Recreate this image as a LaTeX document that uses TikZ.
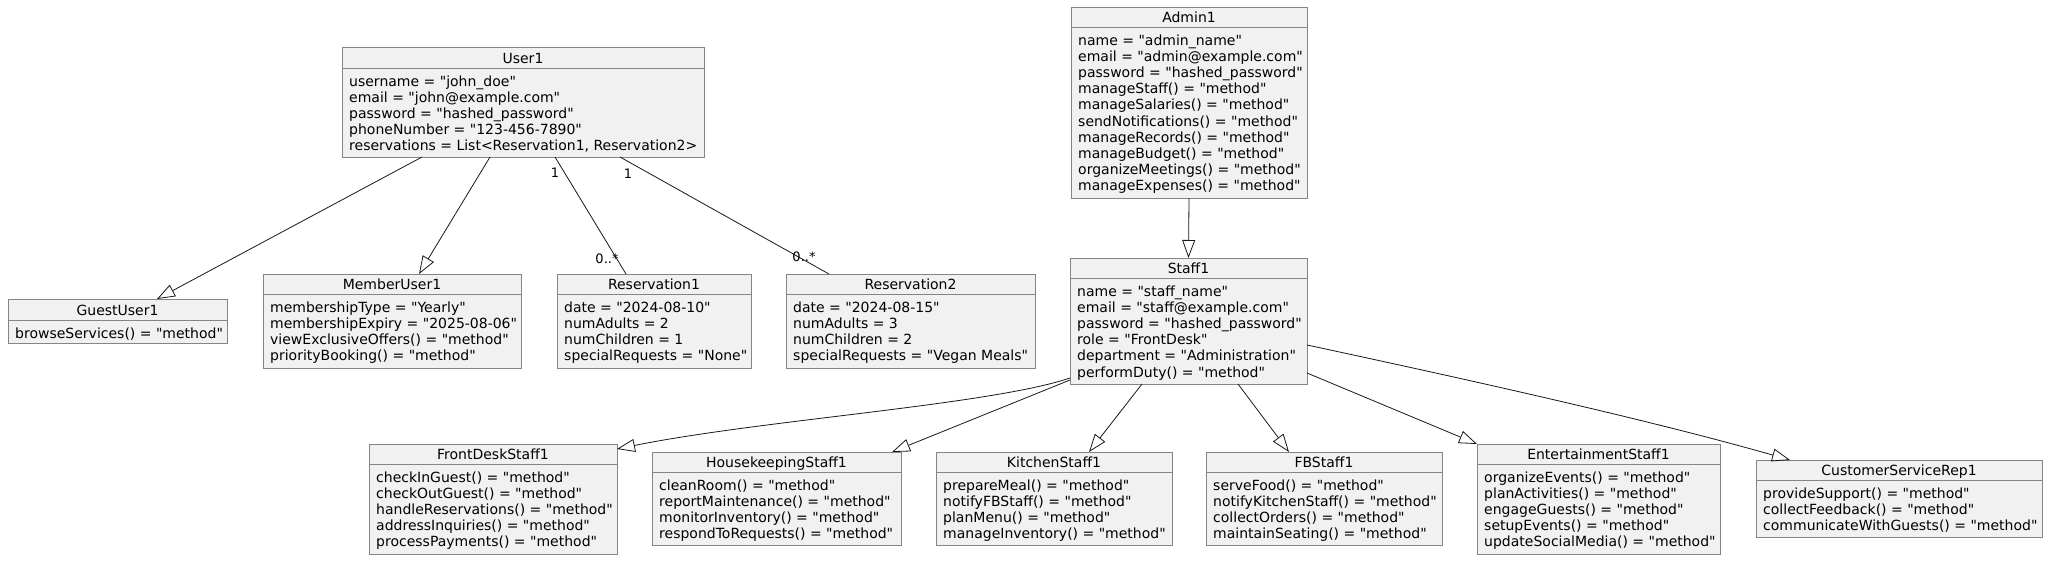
\documentclass[tikz,border=0pt]{standalone}
\usepackage{fontspec}
\setmainfont{DejaVu Sans}[Ligatures=TeXOff]
\usetikzlibrary{arrows.meta,calc}
\definecolor{boxfill}{HTML}{F1F1F1}
\definecolor{boxline}{HTML}{858585}
\definecolor{edgecol}{HTML}{181818}
\tikzset{
  objbox/.style={draw=boxline, fill=boxfill, line width=0.9pt, inner sep=0pt, outer sep=0pt},
  sepline/.style={draw=boxline, line width=0.9pt},
  objtitle/.style={anchor=base, inner sep=0pt, font=\fontsize{14}{16}\selectfont},
  objline/.style={anchor=base west, inner sep=0pt, font=\fontsize{14}{16}\selectfont},
  mult/.style={inner sep=0pt, font=\fontsize{13}{15}\selectfont},
  assoc/.style={draw=edgecol, line width=0.8pt},
  gen/.style={draw=edgecol, line width=0.8pt, -{Triangle[open, length=18pt, width=13pt]}},
}
% #1 name, #2 left, #3 top, #4 right, #5 bottom, #6 separator y, #7 title, #8 lines
\newcommand\umlobj[8]{%
  \node[objbox, minimum width={(#4-#2)*1pt}, minimum height={(#5-#3)*1pt}, anchor=north west] (#1) at (#2,#3) {};
  \draw[sepline] (#2,#6) -- (#4,#6);
  \node[objtitle] (#1-title) at ({(#2+#4)/2},{#6-5}) {#7};
  \foreach \l [count=\i] in {#8} {
    \node[objline] (#1-l\i) at ({#2+7},{#6+1.8+16.2*\i}) {\l};
  }
}
\begin{document}
\begin{tikzpicture}[x=1pt,y=-1pt]
\path[use as bounding box, fill=white] (0,0) rectangle (2048,560);

\umlobj{User1}{342}{47}{704}{157}{68}{User1}{username = "john\_doe", email = "john@example.com", password = "hashed\_password", phoneNumber = "123-456-7890", {reservations = List<Reservation1, Reservation2>}}
\umlobj{GuestUser1}{8}{299}{227}{343}{320}{GuestUser1}{browseServices() = "method"}
\umlobj{MemberUser1}{263}{274}{521}{368}{294}{MemberUser1}{membershipType = "Yearly", membershipExpiry = "2025-08-06", viewExclusiveOffers() = "method", priorityBooking() = "method"}
\umlobj{Reservation1}{557}{274}{751}{368}{294}{Reservation1}{date = "2024-08-10", numAdults = 2, numChildren = 1, specialRequests = "None"}
\umlobj{Reservation2}{786}{274}{1035}{368}{294}{Reservation2}{date = "2024-08-15", numAdults = 3, numChildren = 2, specialRequests = "Vegan Meals"}
\umlobj{Admin1}{1071}{7}{1307}{198}{27}{Admin1}{name = "admin\_name", email = "admin@example.com", password = "hashed\_password", manageStaff() = "method", manageSalaries() = "method", sendNotifications() = "method", manageRecords() = "method", manageBudget() = "method", organizeMeetings() = "method", manageExpenses() = "method"}
\umlobj{Staff1}{1070}{258}{1307}{384}{278}{Staff1}{name = "staff\_name", email = "staff@example.com", password = "hashed\_password", role = "FrontDesk", department = "Administration", performDuty() = "method"}
\umlobj{FrontDeskStaff1}{369}{444}{617}{554}{464}{FrontDeskStaff1}{checkInGuest() = "method", checkOutGuest() = "method", handleReservations() = "method", addressInquiries() = "method", processPayments() = "method"}
\umlobj{HousekeepingStaff1}{652}{452}{901}{545}{472}{HousekeepingStaff1}{cleanRoom() = "method", reportMaintenance() = "method", monitorInventory() = "method", respondToRequests() = "method"}
\umlobj{KitchenStaff1}{936}{452}{1172}{545}{472}{KitchenStaff1}{prepareMeal() = "method", notifyFBStaff() = "method", planMenu() = "method", manageInventory() = "method"}
\umlobj{FBStaff1}{1206}{452}{1442}{545}{472}{FBStaff1}{serveFood() = "method", notifyKitchenStaff() = "method", collectOrders() = "method", maintainSeating() = "method"}
\umlobj{EntertainmentStaff1}{1477}{444}{1720}{554}{464}{EntertainmentStaff1}{organizeEvents() = "method", planActivities() = "method", engageGuests() = "method", setupEvents() = "method", updateSocialMedia() = "method"}
\umlobj{CustomerServiceRep1}{1756}{460}{2042}{537}{480}{CustomerServiceRep1}{provideSupport() = "method", collectFeedback() = "method", communicateWithGuests() = "method"}

% generalizations from User1
\draw[gen] ([xshift=80pt]User1.south west) -- ([xshift=149pt]GuestUser1.north west);
\draw[gen] ([xshift=148pt]User1.south west) -- ([xshift=156pt]MemberUser1.north west);
% associations
\draw[assoc] ([xshift=213pt]User1.south west) -- ([xshift=69pt]Reservation1.north west);
\draw[assoc] ([xshift=278pt]User1.south west) -- ([xshift=43pt]Reservation2.north west);
\node[mult] (m1a) at (555,173) {1};
\node[mult] (m1b) at (607,259) {0..*};
\node[mult] (m2a) at (628,174) {1};
\node[mult] (m2b) at (804,257) {0..*};

% Admin -> Staff
\draw[gen] (Admin1.south) -- (Staff1.north);

% Staff -> subclasses
\draw[gen] ([yshift=6pt]Staff1.south west) .. controls (990,405) and (760,420) .. ([yshift=-5pt]FrontDeskStaff1.north east);
\draw[gen] ([yshift=4pt]Staff1.south west) -- ([xshift=-9pt]HousekeepingStaff1.north east);
\draw[gen] ([xshift=72pt]Staff1.south west) -- ([xshift=153pt]KitchenStaff1.north west);
\draw[gen] ([xshift=168pt]Staff1.south west) -- ([xshift=83pt]FBStaff1.north west);
\draw[gen] ([yshift=11pt]Staff1.south east) -- (EntertainmentStaff1.north west);
\draw[gen] ([yshift=39pt]Staff1.south east) .. controls (1470,380) and (1650,420) .. ([xshift=34pt]CustomerServiceRep1.north west);
\end{tikzpicture}
\end{document}
